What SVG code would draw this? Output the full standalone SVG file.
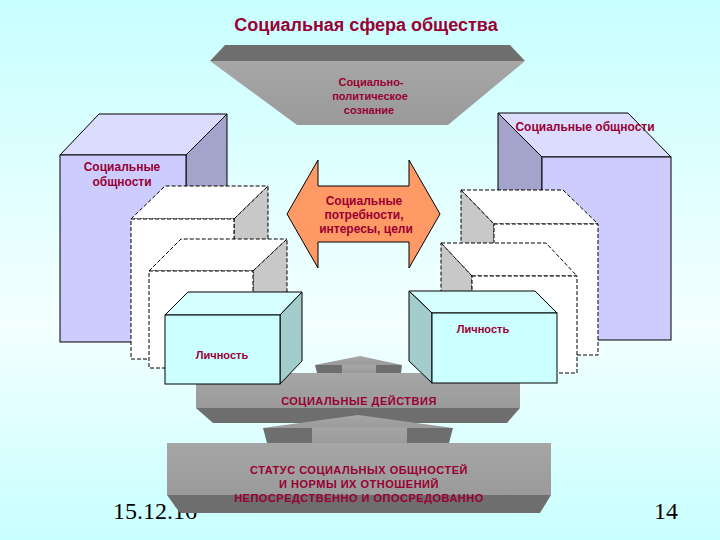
<svg xmlns="http://www.w3.org/2000/svg" width="720" height="540" viewBox="0 0 720 540">
<defs>
<linearGradient id="bg" x1="0" y1="0" x2="0" y2="1">
<stop offset="0" stop-color="#C8FFFF"/>
<stop offset="0.6" stop-color="#F4FFFF"/>
<stop offset="1" stop-color="#C8FFFF"/>
</linearGradient>
<linearGradient id="grayFront" x1="0" y1="0" x2="0" y2="1">
<stop offset="0" stop-color="#A6A6A6"/>
<stop offset="1" stop-color="#9A9A9A"/>
</linearGradient>
</defs>
<style>
.t{font-family:"Liberation Sans",Arial,sans-serif;font-weight:bold;fill:#990033;text-anchor:middle}
.s11{font-size:11px}
.s12{font-size:12px}
.cap{font-size:11px;letter-spacing:0.5px}
.num{font-family:"Liberation Serif",serif;font-size:24px;font-weight:normal;fill:#000000}
.edge{stroke:#000;stroke-width:1;stroke-linejoin:miter}
.dash{stroke:#000;stroke-width:1;stroke-dasharray:4 2}
.lavF{fill:#CCCCFF}.lavT{fill:#DCDCFF}.lavS{fill:#A3A3CC}
.wh{fill:#FFFFFF}.whS{fill:#C8C8C8}
.cyF{fill:#CCFFFF}.cyT{fill:#D6FFFF}.cyS{fill:#A3CCCC}
.gF{fill:url(#grayFront)}.gD{fill:#6E6E6E}
</style>
<rect x="0" y="0" width="720" height="540" fill="url(#bg)"/>
<text class="t" x="366" y="31" style="font-size:18px">Социальная сфера общества</text>

<g id="node-political">
<polygon class="gD" points="225,45 510,45 525,61 210,61"/>
<polygon class="gF" points="210,61 525,61 448,125 297,125"/>
<text class="t s11" x="371" y="86">Социально-</text>
<text class="t s11" x="370" y="100">политическое</text>
<text class="t s11" x="369" y="114">сознание</text>
</g>

<g id="node-communities-left">
<polygon class="lavT edge" points="60,155 99,114 227,114 186,155"/>
<polygon class="lavS edge" points="186,155 227,114 227,301 186,342"/>
<rect class="lavF edge" x="60" y="155" width="126" height="187"/>
<text class="t s12" x="122" y="171">Социальные</text>
<text class="t s12" x="122" y="186">общности</text>
</g>

<g id="node-communities-right">
<polygon class="lavT edge" points="498,113 628,113 671,157 542,157"/>
<polygon class="lavS edge" points="498,113 542,157 542,340 498,296"/>
<rect class="lavF edge" x="542" y="157" width="129" height="183"/>
<text class="t s12" x="585" y="131">Социальные общности</text>
</g>

<g id="node-group-left-1">
<polygon class="wh dash" points="131,219 165,186 268,186 234,219"/>
<polygon class="whS dash" points="234,219 268,186 268,326 234,359"/>
<rect class="wh dash" x="131" y="219" width="103" height="140"/>
</g>
<g id="node-group-left-2">
<polygon class="wh dash" points="149,271 181,239 287,239 253,271"/>
<polygon class="whS dash" points="253,271 287,239 287,336 253,368"/>
<rect class="wh dash" x="149" y="271" width="104" height="97"/>
</g>
<g id="node-group-right-1">
<polygon class="wh dash" points="461,190 563,190 598,224 494,224"/>
<polygon class="whS dash" points="461,190 494,224 494,355 461,321"/>
<rect class="wh dash" x="494" y="224" width="104" height="131"/>
</g>
<g id="node-group-right-2">
<polygon class="wh dash" points="441,243 546,243 577,276 472,276"/>
<polygon class="whS dash" points="441,243 472,276 472,373 441,340"/>
<rect class="wh dash" x="472" y="276" width="105" height="97"/>
</g>

<g id="connectors">
<polygon fill="#FF9966" class="edge" points="287,214 318,160 318,186 409,186 409,160 440,214 409,268 409,242 318,242 318,268"/>
</g>
<g id="node-needs">
<text class="t s12" x="364" y="205">Социальные</text>
<text class="t s12" x="364" y="219">потребности,</text>
<text class="t s12" x="366" y="233">интересы, цели</text>
</g>

<g id="node-actions">
<polygon class="gF" points="315,365 360,356 402,365"/>
<rect class="gF" x="341" y="364.5" width="36" height="9"/>
<polygon class="gD" points="315,365 342,365 342,373 317,373"/>
<polygon class="gD" points="376,365 402,365 401,373 376,373"/>
<rect class="gF" x="196" y="373" width="324" height="35"/>
<polygon class="gD" points="196,408 520,408 507,423 213,423"/>
<text class="t cap" x="359" y="405">СОЦИАЛЬНЫЕ ДЕЙСТВИЯ</text>
</g>

<g id="node-person-left">
<polygon class="cyT edge" points="165,315 188,292 302,292 280,315"/>
<polygon class="cyS edge" points="280,315 302,292 302,361 280,384"/>
<rect class="cyF edge" x="165" y="315" width="115" height="69"/>
<text class="t s11" x="222" y="359">Личность</text>
</g>
<g id="node-person-right">
<polygon class="cyT edge" points="409,291 535,291 557,313 432,313"/>
<polygon class="cyS edge" points="409,291 432,313 432,383 409,361"/>
<rect class="cyF edge" x="432" y="313" width="125" height="70"/>
<text class="t s11" x="483" y="333">Личность</text>
</g>

<text class="num" x="113" y="519">15.12.16</text>
<text class="num" x="654" y="519">14</text>

<g id="node-status">
<polygon class="gF" points="263,428 358,415 453,428"/>
<rect class="gF" x="311" y="427.5" width="97" height="16"/>
<polygon class="gD" points="263,428 312,428 312,443 267,443"/>
<polygon class="gD" points="407,428 453,428 449,443 407,443"/>
<rect class="gF" x="167" y="443" width="384" height="52"/>
<polygon class="gD" points="167,495 551,495 540,513 180,513"/>
<text class="t cap" x="359" y="474">СТАТУС СОЦИАЛЬНЫХ ОБЩНОСТЕЙ</text>
<text class="t cap" x="359" y="488">И НОРМЫ ИХ ОТНОШЕНИЙ</text>
<text class="t cap" x="359" y="502">НЕПОСРЕДСТВЕННО И ОПОСРЕДОВАННО</text>
</g>
</svg>
